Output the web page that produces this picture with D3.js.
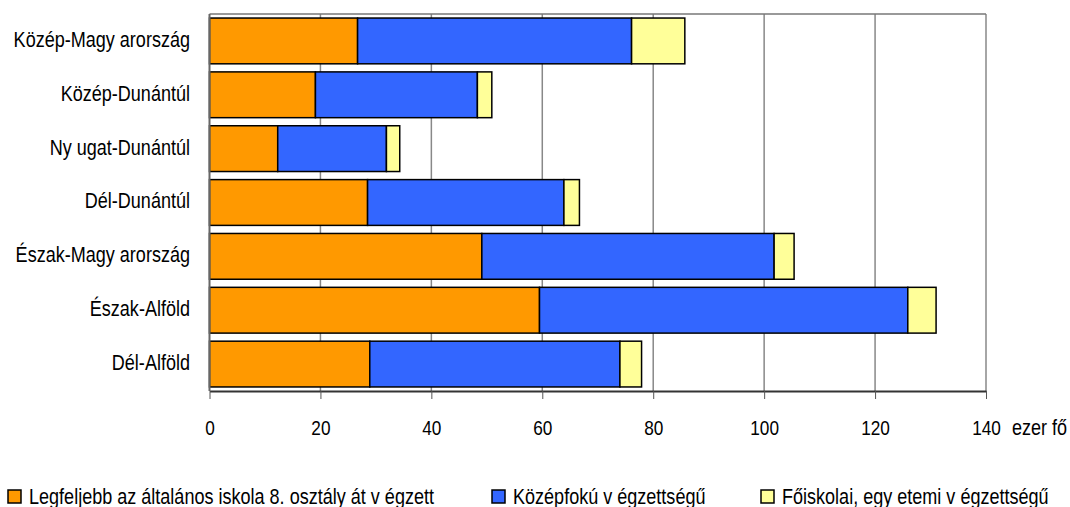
<!DOCTYPE html>
<html>
<head>
<meta charset="utf-8">
<script src="https://cdn.jsdelivr.net/npm/d3@7"></script>
<style>
  body { margin: 0; background: #fff; }
  svg text { font-family: "Liberation Sans", Arial, sans-serif; fill: #000; }
</style>
</head>
<body>
<svg id="chart" width="1070" height="507"></svg>
<script>
const regions = ["Közép-Magy arország", "Közép-Dunántúl", "Ny ugat-Dunántúl", "Dél-Dunántúl",
                 "Észak-Magy arország", "Észak-Alföld", "Dél-Alföld"];
const elementary = [26.7, 19.1, 12.3, 28.5, 49.1, 59.5, 28.9];
const secondary  = [49.4, 29.2, 19.6, 35.4, 52.7, 66.4, 45.1];
const tertiary   = [9.6, 2.6, 2.4, 2.8, 3.6, 5.1, 3.9];
const seriesNames = ["Legfeljebb az általános iskola 8. osztály át v égzett", "Középfokú v égzettségű", "Főiskolai, egy etemi v égzettségű"];
const seriesColors = ["#FF9900", "#3366FF", "#FFFF99"];
const xTicks = [0, 20, 40, 60, 80, 100, 120, 140];

// narrow look: squeeze regular sans horizontally
const narrow = 0.82;

const svg = d3.select("#chart");
const margin = { left: 209.5, top: 14, right: 986, bottom: 391 };

const x = d3.scaleLinear().domain([0, 140]).range([margin.left, margin.right]);
const y = d3.scaleBand().domain(regions).range([margin.top, margin.bottom])
    .paddingInner(0.15).paddingOuter(0.075);

// gridlines
svg.append("g").selectAll("line")
    .data(xTicks.slice(1))
    .enter().append("line")
    .attr("x1", d => x(d)).attr("x2", d => x(d))
    .attr("y1", margin.top).attr("y2", margin.bottom)
    .attr("stroke", "#888").attr("stroke-width", 1.5);

svg.append("line")
    .attr("x1", margin.left).attr("x2", margin.right)
    .attr("y1", margin.top).attr("y2", margin.top)
    .attr("stroke", "#777").attr("stroke-width", 1.5);

// stacked data
const table = regions.map((r, i) => ({ region: r, v0: elementary[i], v1: secondary[i], v2: tertiary[i] }));
const stack = d3.stack().keys(["v0", "v1", "v2"])(table);

svg.append("g").selectAll("g")
    .data(stack)
    .enter().append("g")
    .attr("fill", (d, i) => seriesColors[i])
    .selectAll("rect")
    .data(d => d)
    .enter().append("rect")
    .attr("x", d => x(d[0]))
    .attr("width", d => x(d[1]) - x(d[0]))
    .attr("y", d => y(d.data.region))
    .attr("height", y.bandwidth())
    .attr("stroke", "#000")
    .attr("stroke-width", 1.5);

// axes
const xAxis = svg.append("g")
    .attr("transform", `translate(0,${margin.bottom})`)
    .call(d3.axisBottom(x).tickValues(xTicks).tickSize(8).tickPadding(21).tickSizeOuter(0));
xAxis.select(".domain").attr("stroke", "#333").attr("stroke-width", 2);
xAxis.selectAll(".tick line").attr("stroke", "#555");
xAxis.selectAll("text")
    .style("font-size", "21px")
    .attr("transform", `scale(${narrow},1)`);

svg.append("text")
    .attr("transform", `translate(1012,435) scale(${narrow},1)`)
    .style("font-size", "22px")
    .text("ezer fő");

svg.append("line")
    .attr("x1", margin.left).attr("x2", margin.left)
    .attr("y1", margin.top).attr("y2", margin.bottom)
    .attr("stroke", "#666").attr("stroke-width", 2);

svg.append("g").selectAll("text")
    .data(regions)
    .enter().append("text")
    .attr("transform", d => `translate(190,${y(d) + y.bandwidth() / 2}) scale(${narrow},1)`)
    .attr("dy", "0.27em")
    .attr("text-anchor", "end")
    .style("font-size", "22px")
    .text(d => d);

// legend
const legendX = [8, 492, 761];
const legend = svg.append("g").selectAll("g")
    .data(seriesNames)
    .enter().append("g")
    .attr("transform", (d, i) => `translate(${legendX[i]},490)`);
legend.append("rect")
    .attr("width", 13).attr("height", 13)
    .attr("fill", (d, i) => seriesColors[i])
    .attr("stroke", "#000").attr("stroke-width", 1.5);
legend.append("text")
    .attr("transform", `translate(21,14) scale(${narrow},1)`)
    .style("font-size", "22px")
    .text(d => d);
</script>
</body>
</html>
